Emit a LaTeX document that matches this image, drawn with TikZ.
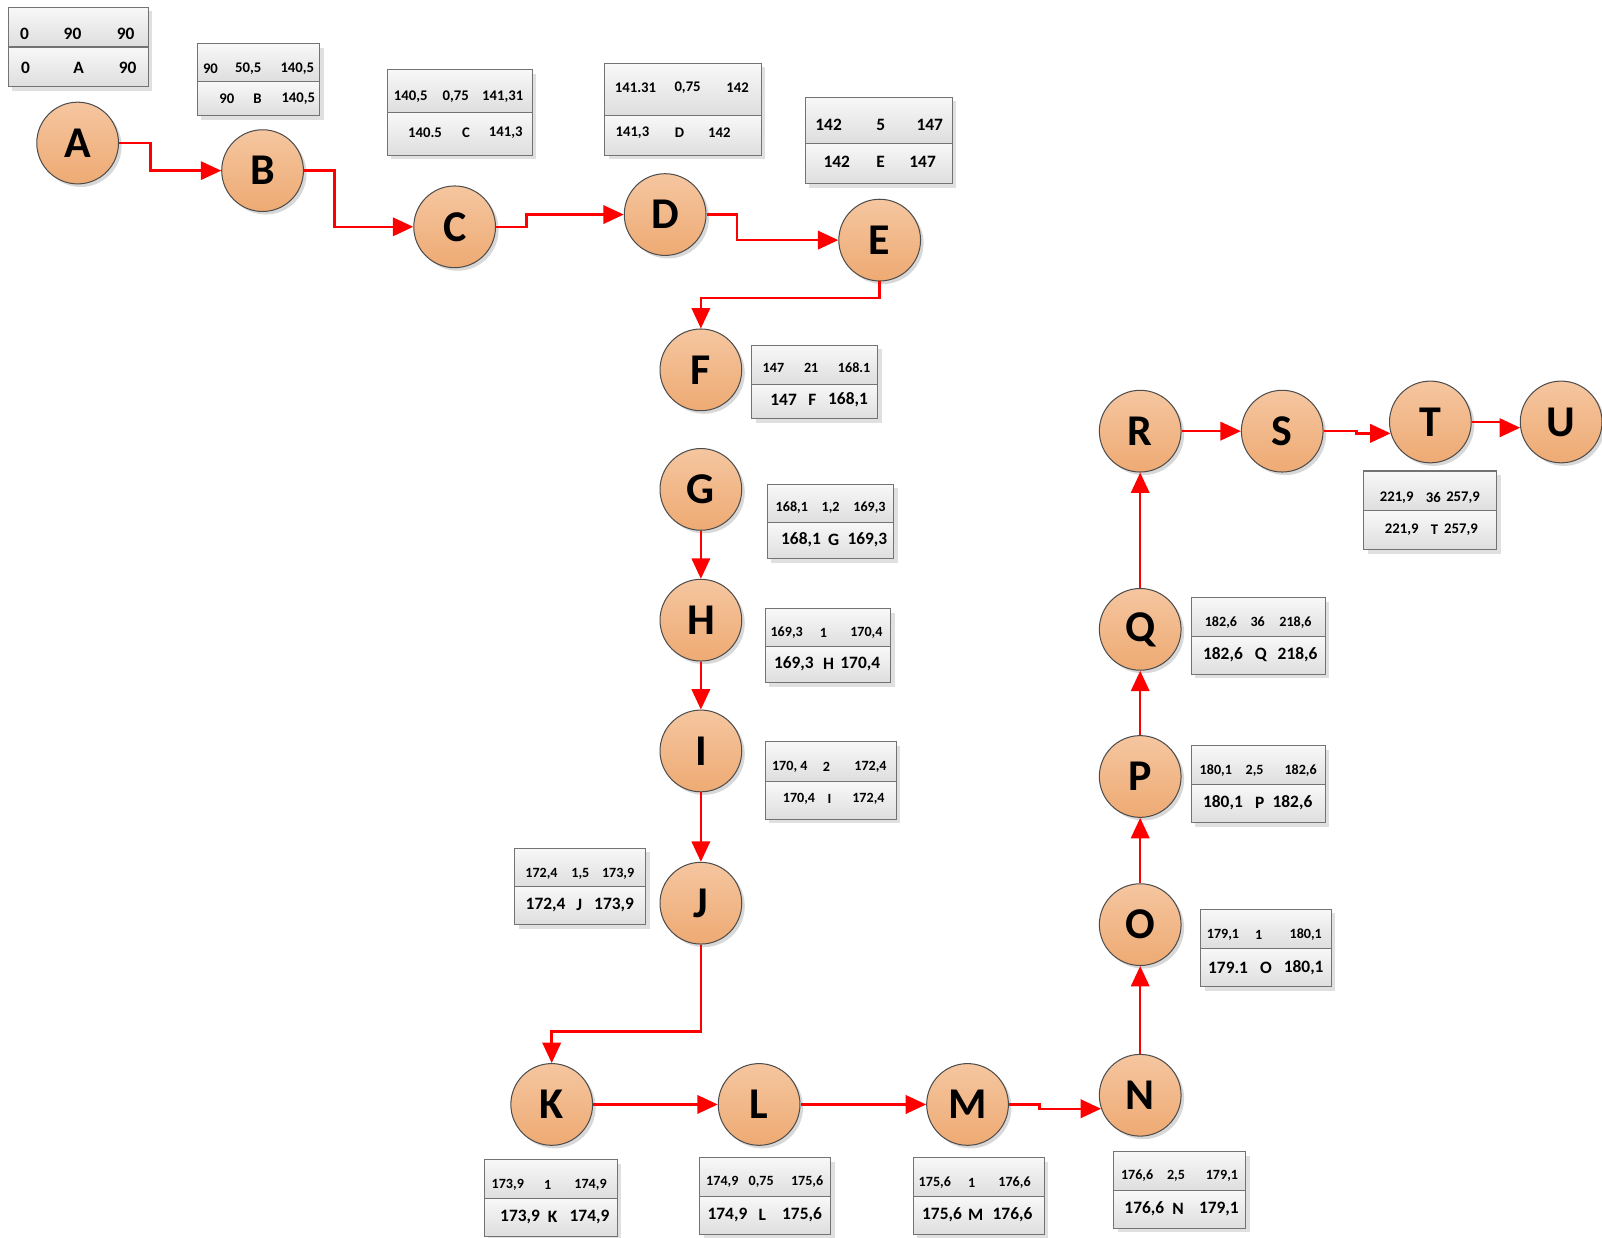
\documentclass[tikz,border=0pt]{standalone}
\usepackage{fontspec}
\setmainfont{Carlito}
\usepackage{xcolor}
\usetikzlibrary{arrows.meta,shadows}

\definecolor{circtop}{RGB}{245,198,160}
\definecolor{circbot}{RGB}{238,170,115}
\definecolor{celltop}{RGB}{248,248,248}
\definecolor{cellbot}{RGB}{222,222,222}

\begin{document}
\begin{tikzpicture}[x=0.5pt,y=0.5pt,yscale=-1,
  circ/.style={circle, draw=black!70, line width=0.5pt, top color=circtop, bottom color=circbot,
    minimum size=40pt, inner sep=0pt, font=\fontsize{21.5}{22}\selectfont\bfseries,
    drop shadow={shadow xshift=1.5pt, shadow yshift=-1.5pt, fill=black!30, opacity=0.5}},
  flow/.style={draw=red, line width=1.2pt, -{Triangle[length=10pt,width=9pt]}},
  cell/.style={draw=black!55, line width=0.5pt, top color=celltop, bottom color=cellbot},
  shade/.style={fill=black!12},
  big/.style={inner sep=0pt, font=\fontsize{8.5}{9}\selectfont\bfseries},
  mid/.style={inner sep=0pt, font=\fontsize{7.2}{8}\selectfont\bfseries},
  sml/.style={inner sep=0pt, font=\fontsize{6.9}{7}\selectfont\bfseries}]
\useasboundingbox (0,0) rectangle (1568,1211);

%Activities
\node[circ] (A) at (76,140) {A};
\node[circ] (B) at (257,167) {B};
\node[circ] (C) at (445,222) {C};
\node[circ] (D) at (651,210) {D};
\node[circ] (E) at (861,235) {E};
\node[circ] (F) at (686,362) {F};
\node[circ] (G) at (686,479) {G};
\node[circ] (H) at (686,607) {H};
\node[circ] (I) at (686,735) {I};
\node[circ] (J) at (686,884) {J};
\node[circ] (K) at (540,1081) {K};
\node[circ] (L) at (743,1081) {L};
\node[circ] (M) at (947,1081) {M};
\node[circ] (N) at (1116,1072) {N};
\node[circ] (O) at (1116,905) {O};
\node[circ] (P) at (1116,760) {P};
\node[circ] (Q) at (1116,616) {Q};
\node[circ] (R) at (1116,422) {R};
\node[circ] (S) at (1255,422) {S};
\node[circ] (T) at (1400,413) {T};
\node[circ] (U) at (1528,413) {U};

%Links
\draw[flow] (A.east) -- ++(31,0) |- (B.west);
\draw[flow] (B.east) -- ++(30,0) |- (C.west);
\draw[flow] (C.east) -- ++(30,0) |- (D.west);
\draw[flow] (D.east) -- ++(30,0) |- (E.west);
\draw[flow] (E.south) -- ++(0,16) -| (F.north);
\draw[flow] (G) -- (H);
\draw[flow] (H) -- (I);
\draw[flow] (I) -- (J);
\draw[flow] (J.south) -- ++(0,85) -| (K.north);
\draw[flow] (K) -- (L);
\draw[flow] (L) -- (M);
\draw[flow] (M.east) -- ++(30,0) |- (N.199);
\draw[flow] (N) -- (O);
\draw[flow] (O) -- (P);
\draw[flow] (P) -- (Q);
\draw[flow] (Q) -- (R);
\draw[flow] (R) -- (S);
\draw[flow] (S.east) -- ++(32,0) |- (T.196);
\draw[flow] (T.east) -- ++(30,0) |- (U.188);

% Box A
\fill[shade] (12,11) rectangle (149,89);
\path[cell] (8,7) rectangle (145,46);
\path[cell] (8,46) rectangle (145,85);
\node[big] (A-es) at (24,33) {0};
\node[big] (A-d) at (71,33) {90};
\node[big] (A-ef) at (123,33) {90};
\node[big] (A-ls) at (25,66) {0};
\node[big] (A-n) at (77,66) {A};
\node[big] (A-lf) at (125,66) {90};
% Box B
\fill[shade] (197,47) rectangle (317,117);
\path[cell] (193,43) rectangle (313,80);
\path[cell] (193,80) rectangle (313,113);
\node[mid] (B-es) at (206,67) {90};
\node[mid] (B-d) at (243,67) {50,5};
\node[mid] (B-ef) at (291,67) {140,5};
\node[mid] (B-ls) at (222,97) {90};
\node[mid] (B-n) at (252,97) {B};
\node[mid] (B-lf) at (292,97) {140,5};
% Box C
\fill[shade] (383,72) rectangle (525,156);
\path[cell] (379,68) rectangle (521,110);
\path[cell] (379,110) rectangle (521,152);
\node[mid] (C-es) at (402,95) {140,5};
\node[mid] (C-d) at (446,95) {0,75};
\node[mid] (C-ef) at (492,95) {141,31};
\node[mid] (C-ls) at (416,130) {140.5};
\node[mid] (C-n) at (456,130) {C};
\node[mid] (C-lf) at (495,130) {141,3};
% Box D
\fill[shade] (596,66) rectangle (749,156);
\path[cell] (592,62) rectangle (745,113);
\path[cell] (592,113) rectangle (745,152);
\node[mid] (D-es) at (622,86) {141.31};
\node[mid] (D-d) at (673,86) {0,75};
\node[mid] (D-ef) at (722,86) {142};
\node[mid] (D-ls) at (619,130) {141,3};
\node[mid] (D-n) at (665,130) {D};
\node[mid] (D-lf) at (704,130) {142};
% Box E
\fill[shade] (792,99) rectangle (936,184);
\path[cell] (788,95) rectangle (932,140);
\path[cell] (788,140) rectangle (932,180);
\node[big] (E-es) at (811,122) {142};
\node[big] (E-d) at (862,122) {5};
\node[big] (E-ef) at (910,122) {147};
\node[big] (E-ls) at (819,158) {142};
\node[big] (E-n) at (862,158) {E};
\node[big] (E-lf) at (903,158) {147};
% Box F
\fill[shade] (740,342) rectangle (863,414);
\path[cell] (736,338) rectangle (859,376);
\path[cell] (736,376) rectangle (859,410);
\node[sml] (F-es) at (757,360) {147};
\node[sml] (F-d) at (794,360) {21};
\node[sml] (F-ef) at (836,360) {168.1};
\node[big] (F-ls) at (767,391) {147};
\node[big] (F-n) at (795,391) {F};
\node[big] (F-lf) at (830,391) {168,1};
% Box G
\fill[shade] (755,478) rectangle (879,551);
\path[cell] (751,474) rectangle (875,511);
\path[cell] (751,511) rectangle (875,547);
\node[sml] (G-es) at (775,497) {168,1};
\node[sml] (G-d) at (813,497) {1,2};
\node[sml] (G-ef) at (851,497) {169,3};
\node[big] (G-ls) at (784,528) {168,1};
\node[big] (G-n) at (816,528) {G};
\node[big] (G-lf) at (849,528) {169,3};
% Box H
\fill[shade] (753,600) rectangle (876,672);
\path[cell] (749,596) rectangle (872,633);
\path[cell] (749,633) rectangle (872,668);
\node[sml] (H-es) at (770,619) {169,3};
\node[sml] (H-d) at (806,619) {1};
\node[sml] (H-ef) at (848,619) {170,4};
\node[big] (H-ls) at (777,650) {169,3};
\node[big] (H-n) at (811,650) {H};
\node[big] (H-lf) at (842,650) {170,4};
% Box I
\fill[shade] (753,730) rectangle (881,806);
\path[cell] (749,726) rectangle (877,765);
\path[cell] (749,765) rectangle (877,802);
\node[sml] (I-es) at (773,751) {170, 4};
\node[sml] (I-d) at (809,751) {2};
\node[sml] (I-ef) at (852,751) {172,4};
\node[sml] (I-ls) at (782,782) {170,4};
\node[sml] (I-n) at (812,782) {I};
\node[sml] (I-lf) at (850,782) {172,4};
% Box J
\fill[shade] (508,834) rectangle (636,909);
\path[cell] (504,830) rectangle (632,868);
\path[cell] (504,868) rectangle (632,905);
\node[sml] (J-es) at (530,855) {172,4};
\node[sml] (J-d) at (568,855) {1,5};
\node[sml] (J-ef) at (605,855) {173,9};
\node[big] (J-ls) at (534,886) {172,4};
\node[big] (J-n) at (567,886) {J};
\node[big] (J-lf) at (601,886) {173,9};
% Box K
\fill[shade] (478,1139) rectangle (608,1214);
\path[cell] (474,1135) rectangle (604,1173);
\path[cell] (474,1173) rectangle (604,1210);
\node[sml] (K-es) at (497,1160) {173,9};
\node[sml] (K-d) at (536,1160) {1};
\node[sml] (K-ef) at (578,1160) {174,9};
\node[big] (K-ls) at (509,1191) {173,9};
\node[big] (K-n) at (541,1191) {K};
\node[big] (K-lf) at (577,1191) {174,9};
% Box L
\fill[shade] (689,1137) rectangle (817,1212);
\path[cell] (685,1133) rectangle (813,1171);
\path[cell] (685,1171) rectangle (813,1208);
\node[sml] (L-es) at (707,1157) {174,9};
\node[sml] (L-d) at (745,1157) {0,75};
\node[sml] (L-ef) at (790,1157) {175,6};
\node[big] (L-ls) at (712,1189) {174,9};
\node[big] (L-n) at (746,1189) {L};
\node[big] (L-lf) at (785,1189) {175,6};
% Box M
\fill[shade] (898,1137) rectangle (1026,1212);
\path[cell] (894,1133) rectangle (1022,1171);
\path[cell] (894,1171) rectangle (1022,1208);
\node[sml] (M-es) at (915,1158) {175,6};
\node[sml] (M-d) at (951,1158) {1};
\node[sml] (M-ef) at (993,1158) {176,6};
\node[big] (M-ls) at (922,1189) {175,6};
\node[big] (M-n) at (955,1189) {M};
\node[big] (M-lf) at (991,1189) {176,6};
% Box N
\fill[shade] (1094,1131) rectangle (1223,1206);
\path[cell] (1090,1127) rectangle (1219,1165);
\path[cell] (1090,1165) rectangle (1219,1202);
\node[sml] (N-es) at (1113,1151) {176,6};
\node[sml] (N-d) at (1151,1151) {2,5};
\node[sml] (N-ef) at (1196,1151) {179,1};
\node[big] (N-ls) at (1120,1183) {176,6};
\node[big] (N-n) at (1153,1183) {N};
\node[big] (N-lf) at (1193,1183) {179,1};
% Box O
\fill[shade] (1179,894) rectangle (1307,970);
\path[cell] (1175,890) rectangle (1303,928);
\path[cell] (1175,928) rectangle (1303,966);
\node[sml] (O-es) at (1197,915) {179,1};
\node[sml] (O-d) at (1232,915) {1};
\node[sml] (O-ef) at (1278,915) {180,1};
\node[big] (O-ls) at (1202,947) {179.1};
\node[big] (O-n) at (1239,947) {O};
\node[big] (O-lf) at (1276,947) {180,1};
% Box P
\fill[shade] (1170,734) rectangle (1301,809);
\path[cell] (1166,730) rectangle (1297,768);
\path[cell] (1166,768) rectangle (1297,805);
\node[sml] (P-es) at (1190,754) {180,1};
\node[sml] (P-d) at (1228,754) {2,5};
\node[sml] (P-ef) at (1273,754) {182,6};
\node[big] (P-ls) at (1197,786) {180,1};
\node[big] (P-n) at (1233,786) {P};
\node[big] (P-lf) at (1265,786) {182,6};
% Box Q
\fill[shade] (1170,589) rectangle (1301,664);
\path[cell] (1166,585) rectangle (1297,623);
\path[cell] (1166,623) rectangle (1297,660);
\node[sml] (Q-es) at (1195,609) {182,6};
\node[sml] (Q-d) at (1231,609) {36};
\node[sml] (Q-ef) at (1268,609) {218,6};
\node[big] (Q-ls) at (1197,641) {182,6};
\node[big] (Q-n) at (1234,641) {Q};
\node[big] (Q-lf) at (1270,641) {218,6};
% Box T
\fill[shade] (1339,465) rectangle (1469,542);
\path[cell] (1335,461) rectangle (1465,500);
\path[cell] (1335,500) rectangle (1465,538);
\node[mid] (T-es) at (1367,487) {221,9};
\node[mid] (T-d) at (1403,487) {36};
\node[mid] (T-ef) at (1432,487) {257,9};
\node[mid] (T-ls) at (1372,518) {221,9};
\node[mid] (T-n) at (1404,518) {T};
\node[mid] (T-lf) at (1430,518) {257,9};

\end{tikzpicture}
\end{document}
